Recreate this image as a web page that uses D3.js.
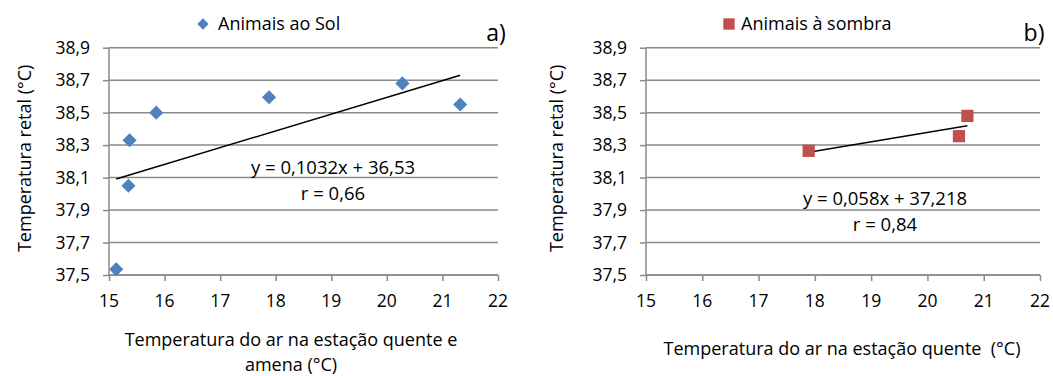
<!DOCTYPE html>
<meta charset="UTF-8">
<style>
    body { margin: 0; background: #fff; }
    text { font-family: "Open Sans", "Noto Sans", sans-serif; fill: #000; white-space: pre; }
    .grid line { stroke: #8a8a8a; stroke-width: 1.5px; }
    .axis path, .axis line { stroke: #8a8a8a; stroke-width: 1.5px; }
</style>
<body>
<div id="chart"></div>
<script src="https://d3js.org/d3.v7.min.js"></script>
<script>
    // panel a) animals in the sun
    var solX = [15.13, 15.35, 15.37, 15.85, 17.88, 20.28, 21.32];
    var solY = [37.535, 38.05, 38.33, 38.50, 38.595, 38.68, 38.55];
    // panel b) animals in the shade
    var sombraX = [17.89, 20.56, 20.71];
    var sombraY = [38.265, 38.355, 38.48];

    var xTicks = [15, 16, 17, 18, 19, 20, 21, 22];
    var yTicks = [37.5, 37.7, 37.9, 38.1, 38.3, 38.5, 38.7, 38.9];

    var panels = [
        {
            left: 109, right: 498, xs: solX, ys: solY,
            slope: 0.1032, intercept: 36.53,
            eq: "y = 0,1032x + 36,53", r: "r = 0,66", eqX: 333, eqY: 167,
            legend: "Animais ao Sol", legX: 203, shape: "diamond", color: "#4F81BD",
            tag: "a)", tagX: 496,
            xTitle: ["Temperatura do ar na estação quente e", "amena (°C)"], xTitleX: 291, xTitleY: 340,
            yTitleX: 25
        },
        {
            left: 646, right: 1040, xs: sombraX, ys: sombraY,
            slope: 0.058, intercept: 37.218,
            eq: "y = 0,058x + 37,218", r: "r = 0,84", eqX: 885, eqY: 198,
            legend: "Animais à sombra", legX: 729, shape: "square", color: "#C0504D",
            tag: "b)", tagX: 1034,
            xTitle: ["Temperatura do ar na estação quente  (°C)"], xTitleX: 842, xTitleY: 349,
            yTitleX: 557
        }
    ];

    var svg = d3.select("#chart").append("svg")
            .attr("width", 1053)
            .attr("height", 376);

    var plotTop = 47.7, plotBottom = 275;

    panels.forEach(function (p) {
        var x = d3.scaleLinear().domain([15, 22]).range([p.left, p.right]);
        var y = d3.scaleLinear().domain([37.5, 38.9]).range([plotBottom, plotTop]);
        var g = svg.append("g");

        // horizontal gridlines
        g.append("g").attr("class", "grid")
                .selectAll("line").data(yTicks).enter().append("line")
                .attr("x1", p.left).attr("x2", p.right)
                .attr("y1", function (d) { return y(d); })
                .attr("y2", function (d) { return y(d); });

        // axes with outside tick marks
        g.append("g").attr("class", "axis")
                .attr("transform", "translate(0," + plotBottom + ")")
                .call(d3.axisBottom(x).tickValues(xTicks).tickSize(6).tickFormat(""))
                .call(function (s) { s.select(".domain").attr("d", "M" + p.left + ",0H" + p.right); });
        g.append("g").attr("class", "axis")
                .attr("transform", "translate(" + p.left + ",0)")
                .call(d3.axisLeft(y).tickValues(yTicks).tickSize(6).tickFormat(""))
                .call(function (s) { s.select(".domain").attr("d", "M0," + plotTop + "V" + plotBottom); });

        // tick labels
        g.selectAll("text.xt").data(xTicks).enter().append("text")
                .attr("class", "xt")
                .attr("x", function (d) { return x(d); })
                .attr("y", 301)
                .attr("dy", "0.36em")
                .attr("text-anchor", "middle")
                .style("font-size", "17.5px")
                .text(function (d) { return d; });
        g.selectAll("text.yt").data(yTicks).enter().append("text")
                .attr("class", "yt")
                .attr("x", p.left - 19)
                .attr("y", function (d) { return y(d); })
                .attr("dy", "0.36em")
                .attr("text-anchor", "end")
                .style("font-size", "17.5px")
                .text(function (d) { return d3.format(".1f")(d).replace(".", ","); });

        // trend line over the data range
        var xmin = d3.min(p.xs), xmax = d3.max(p.xs);
        g.append("line")
                .attr("x1", x(xmin)).attr("y1", y(p.slope * xmin + p.intercept))
                .attr("x2", x(xmax)).attr("y2", y(p.slope * xmax + p.intercept))
                .style("stroke", "#000").style("stroke-width", "1.5px");

        // points
        var size = p.shape === "diamond" ? 100 : 150;
        var symbol = d3.symbol().type(d3.symbolSquare).size(size);
        var pts = p.xs.map(function (v, i) { return [v, p.ys[i]]; });
        g.selectAll("path.pt").data(pts).enter().append("path")
                .attr("class", "pt")
                .attr("d", symbol)
                .attr("transform", function (d) {
                    return "translate(" + x(d[0]) + "," + y(d[1]) + ")" + (p.shape === "diamond" ? " rotate(45)" : "");
                })
                .style("fill", p.color);

        // equation
        g.append("text").attr("x", p.eqX).attr("y", p.eqY).attr("dy", "0.36em")
                .attr("text-anchor", "middle").style("font-size", "18.5px").text(p.eq);
        g.append("text").attr("x", p.eqX).attr("y", p.eqY + 26).attr("dy", "0.36em")
                .attr("text-anchor", "middle").style("font-size", "18.5px").text(p.r);

        // legend
        g.append("path")
                .attr("d", d3.symbol().type(d3.symbolSquare).size(p.shape === "diamond" ? 64 : 130))
                .attr("transform", "translate(" + p.legX + ",24)" + (p.shape === "diamond" ? " rotate(45)" : ""))
                .style("fill", p.color);
        g.append("text").attr("x", p.shape === "diamond" ? p.legX + 15 : p.legX + 12).attr("y", 24).attr("dy", "0.36em")
                .style("font-size", "18px").text(p.legend);

        // panel tag
        g.append("text").attr("x", p.tagX).attr("y", 33).attr("dy", "0.36em")
                .attr("text-anchor", "middle").style("font-size", "23px").text(p.tag);

        // axis titles
        p.xTitle.forEach(function (t, i) {
            g.append("text").attr("x", p.xTitleX).attr("y", p.xTitleY + i * 25).attr("dy", "0.36em")
                    .attr("text-anchor", "middle").style("font-size", "18px").text(t);
        });
        g.append("text")
                .attr("transform", "translate(" + p.yTitleX + "," + ((plotTop + plotBottom) / 2 - 3) + ") rotate(-90)")
                .attr("dy", "0.36em")
                .attr("text-anchor", "middle").style("font-size", "18px")
                .text("Temperatura retal (°C)");
    });
</script>
</body>
